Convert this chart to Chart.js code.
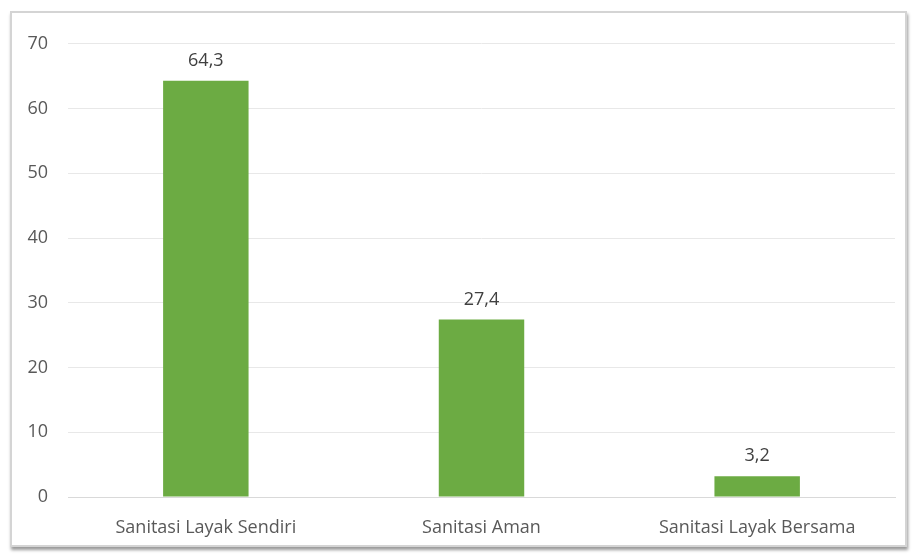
<!DOCTYPE html>
<html>
<head>
<meta charset="utf-8">
<script src="https://cdn.jsdelivr.net/npm/chart.js@4"></script>
<style>
  body { margin: 0; background: #fff; }
  #frame {
    position: absolute; left: 10px; top: 11px;
    width: 893px; height: 532px;
    border: 2px solid #d4d4d4;
    box-shadow: 1px 3px 3px rgba(0,0,0,0.4);
    background: #fff;
  }
</style>
</head>
<body>
<div id="frame"><canvas id="chart" width="893" height="532"></canvas></div>
<script>
const categories = ['Sanitasi Layak Sendiri', 'Sanitasi Aman', 'Sanitasi Layak Bersama'];
const values = [64.3, 27.4, 3.2];
const valueLabels = ['64,3', '27,4', '3,2'];

const fontFamily = "'Open Sans', Lato, sans-serif";

// labels above the bars
const barLabels = {
    id: 'barLabels',
    afterDatasetsDraw(chart) {
        const ctx = chart.ctx;
        const meta = chart.getDatasetMeta(0);
        ctx.save();
        ctx.font = '18px ' + fontFamily;
        ctx.fillStyle = '#404040';
        ctx.textAlign = 'center';
        ctx.textBaseline = 'bottom';
        meta.data.forEach((bar, i) => {
            ctx.fillText(valueLabels[i], bar.x, bar.y - 11);
        });
        ctx.restore();
    }
};

new Chart(document.getElementById('chart').getContext('2d'), {
    type: 'bar',
    data: {
        labels: categories,
        datasets: [{
            data: values,
            backgroundColor: '#6cab43',
            barPercentage: 0.31,
            categoryPercentage: 1
        }]
    },
    options: {
        responsive: false,
        animation: false,
        layout: { padding: { top: 20, right: 10, left: 0, bottom: 0 } },
        plugins: { legend: { display: false }, tooltip: { enabled: false } },
        scales: {
            x: {
                grid: { display: false },
                border: { color: '#d9d9d9' },
                ticks: { color: '#595959', font: { family: fontFamily, size: 18 }, padding: 12 },
                afterFit(scale) { scale.height = 48; }
            },
            y: {
                min: 0, max: 70,
                ticks: { stepSize: 10, color: '#595959', font: { family: fontFamily, size: 18 }, padding: 20 },
                grid: { color: '#e8e8e8', drawTicks: false },
                border: { display: false },
                afterFit(scale) { scale.width = 56; }
            }
        }
    },
    plugins: [barLabels]
});
</script>
</body>
</html>
